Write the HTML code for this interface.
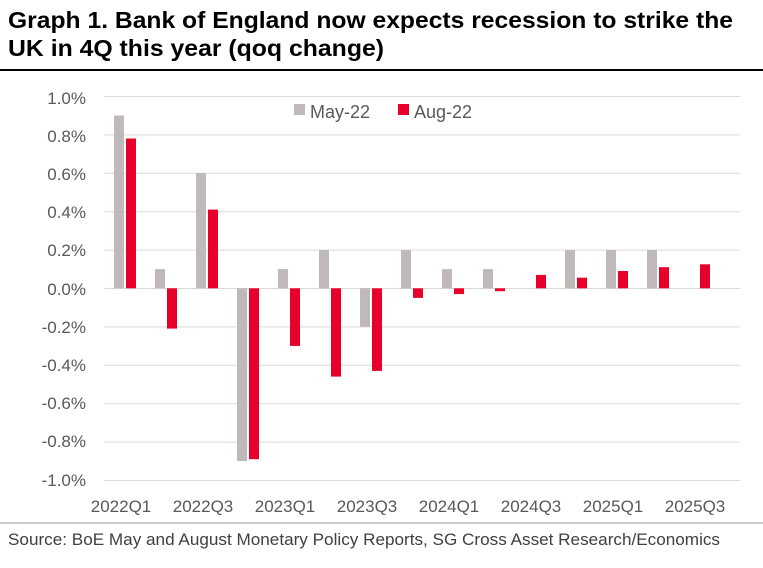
<!DOCTYPE html>
<html><head><meta charset="utf-8"><style>
body{margin:0;background:#fff;width:763px;height:563px;overflow:hidden;font-family:"Liberation Sans",sans-serif}
</style></head><body>
<svg width="763" height="563" xmlns="http://www.w3.org/2000/svg" font-family="Liberation Sans, sans-serif">
<text x="8" y="28" font-size="23" font-weight="bold" fill="#000" textLength="725" lengthAdjust="spacingAndGlyphs">Graph 1. Bank of England now expects recession to strike the</text>
<text x="8" y="56" font-size="23" font-weight="bold" fill="#000" textLength="376" lengthAdjust="spacingAndGlyphs">UK in 4Q this year (qoq change)</text>
<rect x="0" y="69" width="763" height="2" fill="#000"/>
<g stroke="#d9d9d9" stroke-width="1">
<line x1="104" y1="96.5" x2="740" y2="96.5"/><line x1="104" y1="134.9" x2="740" y2="134.9"/><line x1="104" y1="173.3" x2="740" y2="173.3"/><line x1="104" y1="211.7" x2="740" y2="211.7"/><line x1="104" y1="250.1" x2="740" y2="250.1"/><line x1="104" y1="288.5" x2="740" y2="288.5"/><line x1="104" y1="326.9" x2="740" y2="326.9"/><line x1="104" y1="365.3" x2="740" y2="365.3"/><line x1="104" y1="403.7" x2="740" y2="403.7"/><line x1="104" y1="442.1" x2="740" y2="442.1"/><line x1="104" y1="480.5" x2="740" y2="480.5"/>
</g>
<g font-size="17" fill="#595959" text-anchor="end">
<text x="86" y="104">1.0%</text><text x="86" y="142">0.8%</text><text x="86" y="180">0.6%</text><text x="86" y="218">0.4%</text><text x="86" y="256">0.2%</text><text x="86" y="295">0.0%</text><text x="86" y="333">-0.2%</text><text x="86" y="371">-0.4%</text><text x="86" y="409">-0.6%</text><text x="86" y="447">-0.8%</text><text x="86" y="486">-1.0%</text>
</g>
<g fill="#BFB9B9">
<rect x="114" y="115.5" width="10" height="172.8"/>
<rect x="155" y="269.1" width="10" height="19.2"/>
<rect x="196" y="173.1" width="10" height="115.2"/>
<rect x="237" y="288.3" width="10" height="172.8"/>
<rect x="278" y="269.1" width="10" height="19.2"/>
<rect x="319" y="249.9" width="10" height="38.4"/>
<rect x="360" y="288.3" width="10" height="38.4"/>
<rect x="401" y="249.9" width="10" height="38.4"/>
<rect x="442" y="269.1" width="10" height="19.2"/>
<rect x="483" y="269.1" width="10" height="19.2"/>
<rect x="565" y="249.9" width="10" height="38.4"/>
<rect x="606" y="249.9" width="10" height="38.4"/>
<rect x="647" y="249.9" width="10" height="38.4"/>
</g>
<g fill="#E8002A">
<rect x="126" y="138.5" width="10" height="149.8"/>
<rect x="167" y="288.3" width="10" height="40.3"/>
<rect x="208" y="209.6" width="10" height="78.7"/>
<rect x="249" y="288.3" width="10" height="170.9"/>
<rect x="290" y="288.3" width="10" height="57.6"/>
<rect x="331" y="288.3" width="10" height="88.3"/>
<rect x="372" y="288.3" width="10" height="82.6"/>
<rect x="413" y="288.3" width="10" height="9.6"/>
<rect x="454" y="288.3" width="10" height="5.8"/>
<rect x="495" y="288.3" width="10" height="2.9"/>
<rect x="536" y="274.9" width="10" height="13.4"/>
<rect x="577" y="277.7" width="10" height="10.6"/>
<rect x="618" y="271" width="10" height="17.3"/>
<rect x="659" y="267.2" width="10" height="21.1"/>
<rect x="700" y="264.3" width="10" height="24"/>
</g>
<rect x="294" y="104" width="11" height="11" fill="#BFB9B9"/>
<text x="310" y="118" font-size="18" fill="#595959">May-22</text>
<rect x="398" y="104" width="11" height="11" fill="#E8002A"/>
<text x="414" y="118" font-size="18" fill="#595959">Aug-22</text>
<g font-size="17" fill="#595959" text-anchor="middle">
<text x="121" y="512">2022Q1</text><text x="203" y="512">2022Q3</text><text x="285" y="512">2023Q1</text><text x="367" y="512">2023Q3</text><text x="449" y="512">2024Q1</text><text x="531" y="512">2024Q3</text><text x="613" y="512">2025Q1</text><text x="695" y="512">2025Q3</text>
</g>
<line x1="0" y1="523" x2="763" y2="523" stroke="#999" stroke-width="1"/>
<text x="8" y="545" font-size="16.5" fill="#404040" textLength="712" lengthAdjust="spacingAndGlyphs">Source: BoE May and August Monetary Policy Reports, SG Cross Asset Research/Economics</text>
</svg>
</body></html>
